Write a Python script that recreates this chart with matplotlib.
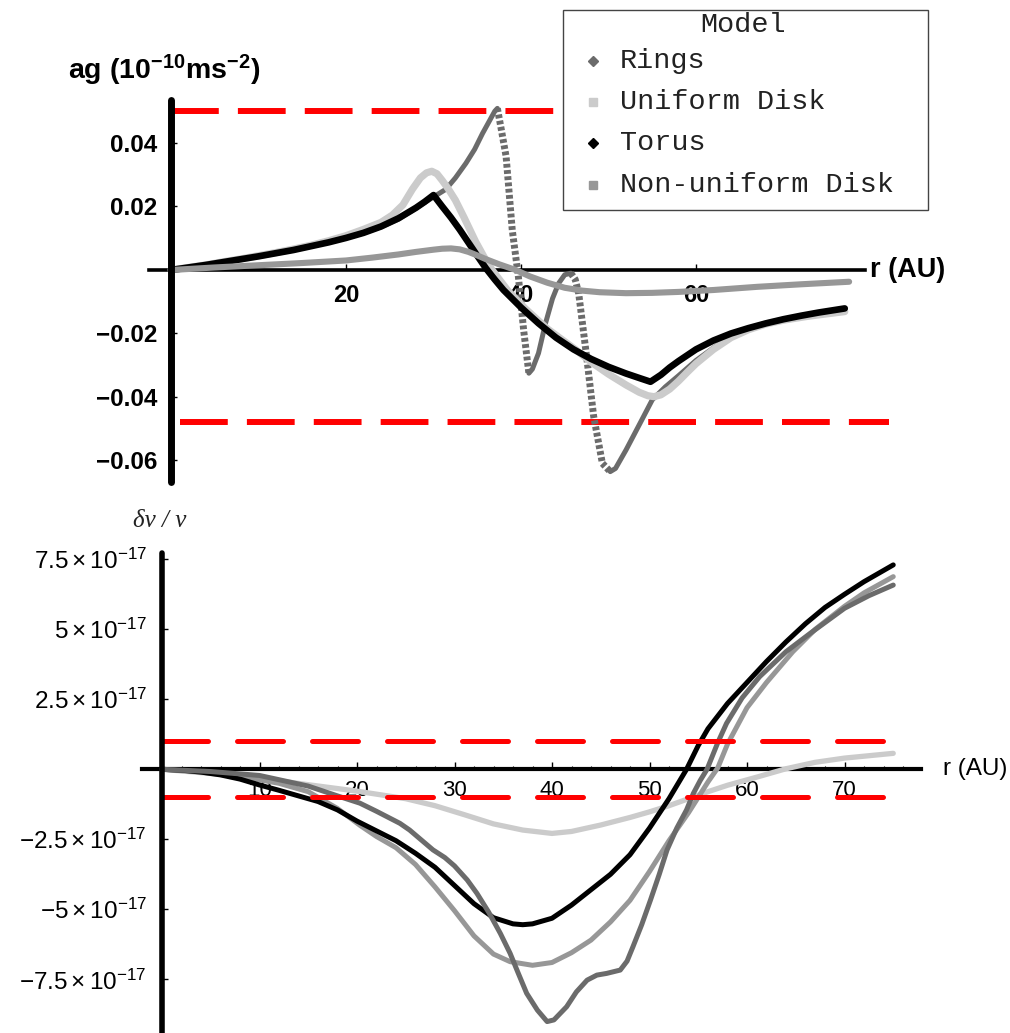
import numpy as np
import matplotlib
matplotlib.use("Agg")
import matplotlib.pyplot as plt
from matplotlib.patches import Rectangle
from matplotlib.lines import Line2D
from matplotlib.ticker import FixedLocator

plt.rcParams['font.family'] = ['Liberation Sans', 'DejaVu Sans']
plt.rcParams['mathtext.fontset'] = 'custom'
plt.rcParams['mathtext.rm'] = 'Liberation Sans'
plt.rcParams['mathtext.it'] = 'Liberation Sans:italic'
plt.rcParams['mathtext.bf'] = 'Liberation Sans:bold'

# ---------------- data: top panel, ag (1e-10 m s^-2) vs r (AU) ----------------
rings_r = [0, 2, 4, 6, 8, 10, 12, 14, 16, 18, 20, 22, 24, 26, 28, 30, 31.4, 32.5, 33.7, 34.7, 35.6,
           36.5, 37.0, 37.3,
           37.7, 38.3, 39.0, 39.7, 40.3, 40.9,
           41.3, 42.0, 42.8, 43.6, 44.3, 45.0, 45.7,
           46.2, 46.6, 47.5, 48.3, 49.3, 50.2,
           50.8, 52.0, 53.6, 55.0, 56.5, 58, 60, 62, 64, 66, 68, 70, 73, 77]
rings_ag = [0, 0.0008, 0.0016, 0.0025, 0.0034, 0.0043, 0.0053, 0.0063, 0.0075, 0.0087, 0.0101,
            0.0117, 0.0136, 0.0160, 0.0195, 0.0230, 0.0254, 0.0290, 0.0336, 0.0380, 0.0430,
            0.0475, 0.0500, 0.0509,
            0.0450, 0.0357, 0.0126, -0.0021, -0.0189, -0.0325,
            -0.0312, -0.0262, -0.0168, -0.0090, -0.0042, -0.0015, -0.0010,
            -0.0030, -0.0075, -0.0273, -0.0460, -0.0609, -0.0635,
            -0.0625, -0.0567, -0.0483, -0.0409, -0.0368, -0.0333, -0.0285, -0.0245, -0.0210,
            -0.0185, -0.0168, -0.0156, -0.0142, -0.0125]
rings_dotted = [(37.3, 40.9), (45.7, 50.2)]

uni_r = [0, 2, 4, 6, 8, 10, 12, 14, 16, 18, 20, 22, 24, 25.3, 26.5, 27.6, 28.5, 29.2, 29.8, 30.4,
         31.0, 31.7, 32.5, 33.5, 34.8, 35.8, 36.7, 38.5, 40.5, 43, 46.3, 48, 50, 52, 53.5, 54.5,
         55.2, 56, 57, 58, 59, 60, 62, 64, 66, 68, 70, 73, 77]
uni_ag = [0, 0.0008, 0.0016, 0.0026, 0.0035, 0.0045, 0.0055, 0.0066, 0.0078, 0.0092, 0.0108,
          0.0128, 0.0150, 0.0173, 0.0205, 0.0255, 0.0290, 0.0306, 0.0311, 0.0303, 0.0282, 0.0255,
          0.0220, 0.0165, 0.0090, 0.0040, 0.0, -0.0065, -0.0122, -0.0185, -0.0252, -0.0290,
          -0.0328, -0.0362, -0.0385, -0.0396, -0.0399, -0.0393, -0.0375, -0.0350, -0.0322,
          -0.0295, -0.0250, -0.0213, -0.0188, -0.0170, -0.0158, -0.0145, -0.0131]

torus_r = [0, 2, 4, 6, 8, 10, 12, 14, 16, 18, 20, 22, 24, 26, 28, 29, 30, 31, 32, 33, 34, 35, 36,
           37, 38, 40, 42, 44, 46, 48, 50, 52, 53.5, 54.8, 56, 57, 58, 60, 62, 64, 66, 68, 70, 72,
           74, 77]
torus_ag = [0, 0.0008, 0.0016, 0.0025, 0.0034, 0.0043, 0.0053, 0.0063, 0.0075, 0.0087, 0.0101,
            0.0117, 0.0137, 0.0163, 0.0196, 0.0215, 0.0236, 0.0200, 0.0165, 0.0127, 0.0086,
            0.0045, 0.0005, -0.0030, -0.0063, -0.0118, -0.0168, -0.0213, -0.0250, -0.0280,
            -0.0305, -0.0326, -0.0340, -0.0352, -0.0330, -0.0307, -0.0287, -0.0250, -0.0222,
            -0.0200, -0.0183, -0.0168, -0.0155, -0.0144, -0.0134, -0.0121]

nonuni_r = [0, 5, 10, 15, 20, 23, 26, 28, 30, 31, 32, 33, 34, 35, 36, 37.5, 39.4, 41, 43, 45, 47,
            49, 52, 55, 58, 62, 67, 72, 77.5]
nonuni_ag = [0, 0.0008, 0.0015, 0.0022, 0.0030, 0.0039, 0.0049, 0.0057, 0.0064, 0.0067, 0.0068,
             0.0065, 0.0057, 0.0046, 0.0034, 0.0018, 0.0, -0.0020, -0.0040, -0.0056, -0.0065,
             -0.0070, -0.0073, -0.0072, -0.0069, -0.0063, -0.0053, -0.0045, -0.0037]

ag_limit_hi = 0.050
ag_limit_lo = -0.048

# ---------------- data: bottom panel, delta nu / nu (units of 1e-17) ----------------
b_rings_r = [0, 5, 10, 15, 18, 20.3, 22, 24.4, 25.4, 27.8, 29, 30, 31.3, 32.3, 33.5, 34.7, 35.7,
             36.5, 37.4, 38.5, 39.5, 40.2, 41.5, 42.5, 43.6, 44.6, 45.6, 47.0, 47.7, 48.3, 49.2,
             50.1, 51.0, 51.8, 52.8, 53.8, 54.5, 55.2, 55.9, 57.0, 57.9, 59.5, 61.3, 64, 66.5,
             70, 72.5, 75]
b_rings_v = [0, -0.08, -0.22, -0.6, -0.95, -1.21, -1.5, -1.93, -2.17, -2.88, -3.15, -3.45, -3.95,
             -4.43, -5.1, -5.86, -6.57, -7.25, -8.0, -8.6, -9.01, -8.95, -8.48, -7.95, -7.53,
             -7.35, -7.29, -7.17, -6.85, -6.34, -5.55, -4.67, -3.75, -2.88, -2.1, -1.45, -0.86,
             -0.4, 0.0, 0.95, 1.64, 2.55, 3.31, 4.2, 4.86, 5.75, 6.2, 6.58]

b_uni_r = [0, 5, 10, 15, 20, 25, 28, 31, 34, 37, 40, 42, 45, 48, 50, 52, 54, 56, 58, 61, 64, 67,
           70, 75]
b_uni_v = [0, -0.15, -0.32, -0.55, -0.78, -1.05, -1.3, -1.62, -1.95, -2.17, -2.29, -2.22, -1.99,
           -1.72, -1.52, -1.3, -1.05, -0.8, -0.57, -0.28, 0.02, 0.25, 0.4, 0.57]

b_torus_r = [0, 2, 4, 6, 8, 10, 12, 14, 16, 18, 20, 22, 24, 26, 28, 30, 32, 34, 36, 37, 38, 40, 42,
             44, 46, 48, 50, 52, 53.8, 55, 56, 58, 60, 62, 64, 66, 68, 70, 72, 75]
b_torus_v = [0, -0.03, -0.1, -0.2, -0.35, -0.56, -0.75, -0.95, -1.15, -1.45, -1.85, -2.2, -2.55,
             -3.0, -3.5, -4.15, -4.8, -5.3, -5.52, -5.55, -5.52, -5.32, -4.85, -4.3, -3.75,
             -3.05, -2.1, -1.05, 0.0, 0.85, 1.45, 2.35, 3.1, 3.85, 4.55, 5.2, 5.78, 6.25, 6.7,
             7.3]

b_nonuni_r = [0, 4, 8, 12, 15, 18, 20.3, 22, 24, 26, 28, 30, 31, 32, 34, 35.7, 38, 40, 42, 44, 46,
              48, 50, 52, 54, 56, 57, 58, 60, 62, 64.7, 67, 70, 72, 75]
b_nonuni_v = [0, -0.1, -0.25, -0.5, -0.8, -1.4, -2.0, -2.4, -2.8, -3.4, -4.2, -5.05, -5.5, -5.95,
              -6.6, -6.87, -7.0, -6.9, -6.55, -6.1, -5.45, -4.68, -3.65, -2.55, -1.55, -0.45,
              0.05, 0.9, 2.2, 3.1, 4.2, 5.0, 5.82, 6.3, 6.88]

dnu_limit = 1.0  # units of 1e-17
scale17 = 1e-17

legend_labels = ['Rings', 'Uniform Disk', 'Torus', 'Non-uniform Disk']
top_xticks = [20, 40, 60]
top_yticks = [-0.06, -0.04, -0.02, 0.02, 0.04]
bot_xticks = [10, 20, 30, 40, 50, 60, 70]
bot_yticks = [-7.5, -5, -2.5, 2.5, 5, 7.5]

# ---------------- styles ----------------
C_RINGS = '#6b6b6b'
C_UNI = '#cbcbcb'
C_TORUS = '#000000'
C_NONUNI = '#979797'
C_RED = '#ff0000'

W, H = 1010, 1033
fig = plt.figure(figsize=(W / 100, H / 100), dpi=100)
fig.patch.set_facecolor('white')


def axes_rect(x0, sx, xlim, y0, sy, ylim):
    left = (x0 + sx * xlim[0]) / W
    width = sx * (xlim[1] - xlim[0]) / W
    top_px = y0 - sy * ylim[1]
    bot_px = y0 - sy * ylim[0]
    return [left, 1 - bot_px / H, width, (bot_px - top_px) / H]


# ================= top panel =================
xl1 = (-3, 84)
yl1 = (-0.068, 0.056)
ax1 = fig.add_axes(axes_rect(171, 8.75, xl1, 270, 3175, yl1))
ax1.set_xlim(*xl1)
ax1.set_ylim(*yl1)
ax1.patch.set_alpha(0)
for s in ['top', 'right']:
    ax1.spines[s].set_visible(False)
ax1.spines['left'].set_position(('data', 0))
ax1.spines['bottom'].set_position(('data', 0))
ax1.spines['left'].set_bounds(-0.0668, 0.0535)
ax1.spines['bottom'].set_bounds(-2.5, 79.3)
ax1.spines['left'].set_linewidth(5)
ax1.spines['left'].set_capstyle('round')
ax1.spines['bottom'].set_linewidth(2.6)
ax1.spines['left'].set_zorder(6)
ax1.spines['bottom'].set_zorder(1)

# red dashed limits
ax1.plot([0, 82], [ag_limit_hi, ag_limit_hi], color=C_RED, lw=4.3,
         dashes=(8, 3.2), dash_capstyle='butt', zorder=2, clip_on=False)
ax1.plot([1, 82], [ag_limit_lo, ag_limit_lo], color=C_RED, lw=4.3,
         dashes=(8, 3.2), dash_capstyle='butt', zorder=2, clip_on=False)

# rings: solid with diamond-chain (dotted) steep descents
rr = np.array(rings_r)
ra = np.array(rings_ag)
bps = [rr[0]] + [v for pair in rings_dotted for v in pair] + [rr[-1]]
for i in range(len(bps) - 1):
    a, b = bps[i], bps[i + 1]
    m = (rr >= a) & (rr <= b)
    if i % 2 == 1:
        ax1.plot(rr[m], ra[m], color=C_RINGS, lw=5.0, linestyle=(0, (0.55, 0.35)),
                 dash_capstyle='butt', zorder=3)
    else:
        ax1.plot(rr[m], ra[m], color=C_RINGS, lw=3.6, solid_capstyle='round',
                 solid_joinstyle='round', zorder=3)

ax1.plot(uni_r, uni_ag, color=C_UNI, lw=5.2, solid_capstyle='round', solid_joinstyle='round', zorder=3)
ax1.plot(torus_r, torus_ag, color=C_TORUS, lw=4.8, solid_capstyle='round', solid_joinstyle='round', zorder=4)
ax1.plot(nonuni_r, nonuni_ag, color=C_NONUNI, lw=4.4, solid_capstyle='round', solid_joinstyle='round', zorder=4)

ax1.set_xticks(top_xticks)
ax1.set_xticklabels([str(t) for t in top_xticks], fontsize=17, fontweight='bold')
ax1.set_yticks(top_yticks)
ax1.set_yticklabels([f"{t:.2f}".replace('-', '\u2212') for t in top_yticks],
                    fontsize=17.5, fontweight='bold')
ax1.tick_params(axis='x', direction='in', length=4, width=1, pad=10)
ax1.tick_params(axis='y', direction='in', length=4, width=1, pad=10)

fig.text(68 / W, 1 - 79 / H, r'$\mathbf{ag\ (10^{-10}ms^{-2})}$', fontsize=20.5,
         ha='left', va='baseline')
fig.text(870 / W, 1 - 270 / H, 'r (AU)', fontsize=19.5, fontweight='bold',
         ha='left', va='center')

# ================= bottom panel =================
xl2 = (-3, 82)
yl2 = (-9.5 * scale17, 7.9 * scale17)
ax2 = fig.add_axes(axes_rect(162, 9.75, xl2, 769.3, 28 / scale17, yl2))
ax2.set_xlim(*xl2)
ax2.set_ylim(*yl2)
ax2.patch.set_alpha(0)
for s in ['top', 'right']:
    ax2.spines[s].set_visible(False)
ax2.spines['left'].set_position(('data', 0))
ax2.spines['bottom'].set_position(('data', 0))
ax2.spines['left'].set_bounds(-9.5 * scale17, 7.72 * scale17)
ax2.spines['bottom'].set_bounds(-2.1, 77.8)
ax2.spines['left'].set_linewidth(4)
ax2.spines['left'].set_capstyle('round')
ax2.spines['bottom'].set_linewidth(3)
ax2.spines['left'].set_zorder(6)
ax2.spines['bottom'].set_zorder(1)

for lv in (dnu_limit, -dnu_limit):
    ax2.plot([0, 75.7], [lv * scale17, lv * scale17], color=C_RED, lw=3.6,
             dashes=(9.2, 5.8), dash_capstyle='round', zorder=5)

kw = dict(solid_capstyle='round', solid_joinstyle='round')
ax2.plot(b_uni_r, np.array(b_uni_v) * scale17, color=C_UNI, lw=3.8, zorder=3, **kw)
ax2.plot(b_nonuni_r, np.array(b_nonuni_v) * scale17, color=C_NONUNI, lw=3.6, zorder=3, **kw)
ax2.plot(b_torus_r, np.array(b_torus_v) * scale17, color=C_TORUS, lw=3.6, zorder=3, **kw)
ax2.plot(b_rings_r, np.array(b_rings_v) * scale17, color=C_RINGS, lw=3.6, zorder=4, **kw)


def sci_label(v):
    sign = '-' if v < 0 else ''
    ms = f"{abs(v):g}"
    return rf"${sign}{ms}\times10^{{-17}}$"


ax2.set_xticks(bot_xticks)
ax2.set_xticklabels([str(t) for t in bot_xticks], fontsize=16)
ax2.xaxis.set_minor_locator(FixedLocator([v for v in range(2, 78, 2) if v % 10 != 0]))
ax2.set_yticks([v * scale17 for v in bot_yticks])
ax2.set_yticklabels([sci_label(v) for v in bot_yticks], fontsize=17.5)
ax2.tick_params(axis='x', which='major', direction='in', length=5, width=1, pad=8)
ax2.tick_params(axis='x', which='minor', direction='in', length=2.5, width=0.8)
ax2.tick_params(axis='y', direction='in', length=4, width=1, pad=11)

fig.text(133 / W, 1 - 527 / H, '\u03b4\u03bd / \u03bd', fontsize=18, style='italic',
         family=['Liberation Serif', 'DejaVu Serif'], ha='left', va='baseline', color='#222222')
fig.text(943 / W, 1 - 769 / H, 'r (AU)', fontsize=17.5, ha='left', va='center')

# ================= legend box =================
fig.add_artist(Rectangle((563 / W, 1 - 209.5 / H), 365 / W, 200 / H, transform=fig.transFigure,
                         facecolor='white', edgecolor='#444444', lw=1.0, zorder=20))
mono = ['Liberation Mono', 'DejaVu Sans Mono']
fig.text(743 / W, 1 - 25 / H, 'Model', fontsize=20.5, family=mono, ha='center', va='center',
         color='#222222', zorder=21)
leg_colors = [C_RINGS, C_UNI, C_TORUS, C_NONUNI]
leg_markers = ['D', 's', 'D', 's']
leg_y = [61, 102, 143, 185]
for lab, col, mk, yy in zip(legend_labels, leg_colors, leg_markers, leg_y):
    fig.add_artist(Line2D([593 / W], [1 - yy / H], marker=mk, markersize=5.5, color=col,
                          markeredgecolor=col, linestyle='none', transform=fig.transFigure, zorder=21))
    fig.text(620 / W, 1 - yy / H, lab, fontsize=20.5, family=mono, ha='left', va='center',
             color='#222222', zorder=21)

fig.savefig('out.png', dpi=100, facecolor='white')
